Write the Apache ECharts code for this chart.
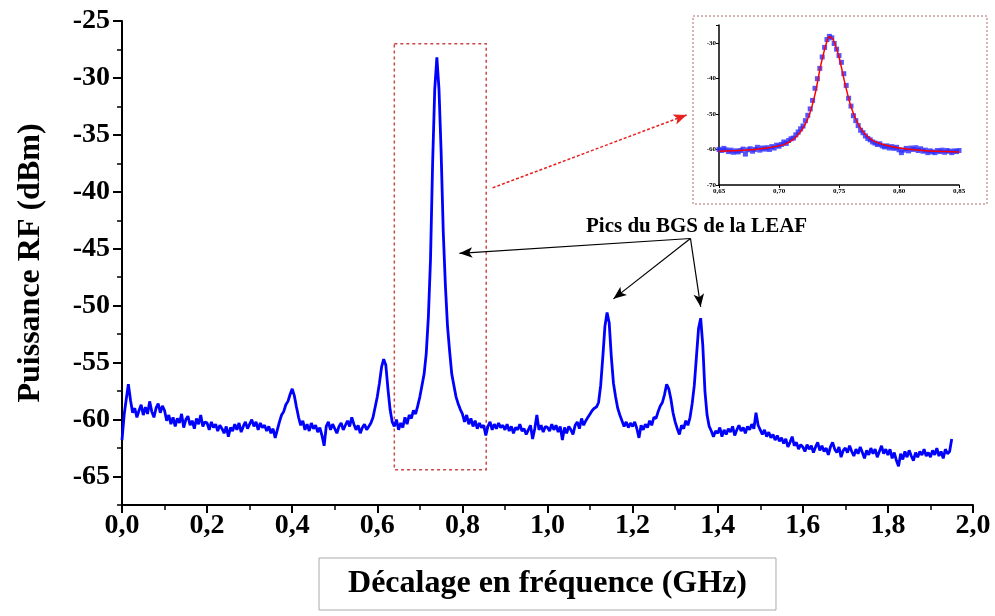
<!DOCTYPE html>
<html><head><meta charset="utf-8">
<script src="https://cdn.jsdelivr.net/npm/echarts@6/dist/echarts.min.js"></script>
<style>html,body{margin:0;padding:0;background:#fff}#c{width:995px;height:616px}</style>
</head><body><div id="c"></div>
<script>
// ---- main spectrum: sampled every 0.005 GHz starting at 0.000 GHz ----
const FREQ_START = 0.0;
const FREQ_STEP = 0.005;
const powerRows = [
  [-61.8,-59.6,-58.2,-56.9,-58.3,-59.4,-59.0,-59.8,-59.2,-58.7,-59.6,-58.9,-59.5,-58.4,-59.3,-59.8,-59.0,-58.6,-59.4,-58.8],
  [-59.2,-60.1,-59.6,-60.4,-59.8,-60.6,-59.9,-60.3,-59.5,-60.7,-60.0,-59.7,-60.5,-60.1,-60.8,-59.9,-60.4,-59.6,-60.6,-60.2],
  [-60.3,-60.9,-60.2,-60.7,-60.4,-61.0,-60.5,-60.8,-61.2,-60.6,-61.5,-60.7,-61.0,-60.4,-60.9,-60.3,-61.1,-60.6,-60.2,-60.8],
  [-60.4,-60.0,-60.6,-60.2,-60.9,-60.3,-60.7,-60.5,-61.0,-60.6,-61.2,-60.8,-61.6,-60.9,-60.2,-59.6,-59.3,-58.7,-58.4,-57.8],
  [-57.3,-57.9,-58.9,-59.8,-60.5,-60.1,-60.9,-60.4,-61.0,-60.3,-60.8,-60.5,-61.1,-60.7,-61.4,-62.3,-60.6,-60.2,-60.9,-60.4],
  [-60.8,-61.2,-60.6,-60.3,-60.9,-60.5,-60.1,-60.6,-59.8,-60.4,-60.9,-60.5,-61.2,-60.7,-60.4,-60.9,-60.6,-60.3,-59.8,-58.9],
  [-58.0,-56.8,-55.4,-54.7,-55.2,-57.3,-59.1,-60.2,-60.6,-60.0,-60.9,-60.3,-60.7,-59.8,-60.4,-59.6,-59.9,-59.2,-59.5,-58.8],
  [-58.0,-57.0,-56.0,-54.2,-51.0,-46.0,-37.5,-31.0,-28.2,-31.0,-36.5,-43.5,-48.2,-51.8,-54.0,-56.0,-57.0,-58.0,-58.6,-59.1],
  [-59.5,-60.2,-59.6,-60.4,-59.9,-60.6,-60.1,-60.8,-60.3,-60.7,-60.5,-61.4,-60.6,-60.2,-60.9,-60.4,-60.8,-60.3,-60.7,-60.5],
  [-60.9,-60.4,-61.0,-60.6,-61.2,-60.7,-60.9,-60.4,-61.0,-60.8,-61.3,-60.9,-60.5,-61.7,-60.8,-59.6,-60.9,-60.5,-61.1,-60.6],
  [-60.7,-61.0,-60.4,-60.9,-60.5,-61.1,-60.6,-61.8,-60.7,-61.2,-60.6,-60.9,-61.3,-60.5,-60.2,-60.8,-59.9,-60.5,-60.1,-59.8],
  [-59.5,-59.2,-59.0,-58.9,-58.5,-57.0,-54.5,-51.8,-50.6,-51.5,-54.5,-56.8,-58.0,-59.0,-59.6,-60.1,-60.6,-60.2,-60.7,-60.3],
  [-60.6,-60.2,-60.8,-61.6,-60.5,-60.9,-60.4,-60.7,-60.1,-60.5,-59.8,-59.9,-59.3,-58.8,-58.5,-57.8,-56.9,-57.3,-58.2,-59.4],
  [-60.2,-60.8,-61.3,-60.5,-60.8,-60.1,-60.5,-59.8,-58.6,-57.0,-54.5,-52.0,-51.1,-53.5,-57.5,-59.6,-60.6,-61.0,-61.5,-61.0],
  [-61.2,-60.7,-61.5,-60.9,-61.3,-60.8,-61.1,-60.6,-61.4,-60.9,-60.5,-61.0,-60.7,-61.2,-60.6,-60.9,-60.4,-60.8,-59.4,-60.5],
  [-60.9,-61.3,-60.9,-61.5,-61.1,-61.6,-61.3,-61.8,-61.4,-61.9,-61.6,-62.1,-61.7,-62.4,-62.0,-61.5,-62.3,-62.0,-62.6,-62.2],
  [-62.4,-62.8,-62.2,-62.6,-62.3,-62.9,-62.4,-62.0,-62.7,-62.3,-62.8,-62.5,-63.1,-62.4,-62.0,-62.6,-62.9,-62.4,-63.3,-62.7],
  [-62.5,-62.9,-62.3,-62.8,-63.2,-62.6,-63.0,-62.4,-62.9,-63.4,-62.7,-63.1,-62.5,-63.0,-62.6,-63.3,-62.8,-62.3,-63.0,-62.6],
  [-63.1,-62.6,-63.4,-62.9,-63.6,-64.1,-63.0,-63.5,-62.8,-63.3,-62.7,-63.2,-63.6,-62.9,-63.3,-62.8,-63.1,-62.6,-63.2,-62.9],
  [-63.3,-62.7,-63.1,-62.5,-63.2,-62.8,-63.4,-62.6,-63.0,-62.8,-61.7]
];

// ---- inset: measured points (every 0.002 GHz from 0.650) and fitted curve ----
const INSET_START = 0.65;
const INSET_STEP = 0.002;
const insetPoints = [
  -60.0,-60.3,-59.7,-60.1,-60.6,-60.2,-60.8,-60.4,-60.7,-60.3,
  -59.9,-61.3,-60.1,-59.8,-60.5,-60.0,-59.4,-60.2,-59.6,-59.9,
  -59.5,-60.0,-59.2,-59.6,-58.8,-59.1,-58.6,-57.9,-58.3,-57.5,
  -57.0,-56.8,-55.9,-55.1,-54.2,-53.4,-51.9,-50.4,-48.6,-46.2,
  -42.8,-40.1,-37.2,-34.0,-31.3,-29.1,-28.2,-28.6,-30.2,-31.8,
  -33.6,-35.5,-38.7,-42.0,-45.6,-47.8,-50.5,-51.9,-53.3,-54.6,
  -55.3,-56.2,-56.9,-57.3,-57.9,-58.2,-58.6,-58.4,-59.0,-59.3,
  -59.0,-59.6,-59.2,-59.7,-59.4,-60.1,-60.9,-60.2,-59.7,-60.4,
  -59.6,-60.0,-59.5,-60.3,-59.8,-60.5,-60.2,-60.9,-60.4,-60.7,
  -60.9,-60.3,-60.6,-60.2,-60.8,-60.3,-60.5,-60.9,-60.4,-60.6,
  -60.3
];
const fitFreq  = [0.65,0.66,0.67,0.68,0.69,0.70,0.705,0.71,0.715,0.72,0.725,0.73,0.735,0.74,0.742,0.745,0.75,0.755,0.76,0.765,0.77,0.775,0.78,0.79,0.80,0.81,0.82,0.83,0.84,0.85];
const fitPower = [-60.5,-60.4,-60.2,-60.0,-59.6,-59.0,-58.5,-57.6,-56.2,-54.0,-50.5,-44.5,-36.0,-29.5,-28.3,-29.0,-34.0,-41.5,-48.0,-52.2,-55.0,-56.7,-57.8,-58.9,-59.6,-60.0,-60.3,-60.5,-60.6,-60.7];

// ---- axis ticks ----
const xTicks = {min: 0, max: 2, interval: 0.2};
const yTicks = {min: -65, max: -25, interval: 5};
const insetXTicks = {min: 0.65, max: 0.85, interval: 0.05};
const insetYTicks = {min: -70, max: -25, interval: 10};

// ---- annotations (data coordinates) ----
const zoomBox = [[0.64, -27.0], [0.856, -64.4]];
const zoomArrow = [[0.871, -39.65], [1.327, -33.25]];
const labelOrigin = [1.336, -44.1];
const peakTargets = [[0.793, -45.4], [1.155, -49.4], [1.36, -50.1]];
const annotationText = 'Pics du BGS de la LEAF';

const power = powerRows.flat();
const mainData = power.map((v, i) => [+(FREQ_START + i * FREQ_STEP).toFixed(3), v]);
const insetData = insetPoints.map((v, i) => [+(INSET_START + i * INSET_STEP).toFixed(3), v]);
const fitData = fitFreq.map((f, i) => [f, fitPower[i]]);

const FONT = '"Liberation Serif", "Times New Roman", serif';
const fmtComma = (d) => (v) => v.toFixed(d).replace('.', ',');

const chart = echarts.init(document.getElementById('c'), null, {renderer: 'canvas'});
chart.setOption({
  animation: false,
  backgroundColor: '#fff',
  grid: [
    {left: 122, right: 22, top: 21, bottom: 111},
    {left: 122, right: 22, top: 21, bottom: 139.47},
    {left: 719, top: 25, width: 240, height: 160}
  ],
  xAxis: [
    {
      type: 'value', gridIndex: 0, min: xTicks.min, max: xTicks.max, interval: xTicks.interval,
      axisLine: {onZero: false, lineStyle: {color: '#000', width: 2}},
      axisTick: {length: 8, lineStyle: {color: '#000', width: 2}},
      minorTick: {show: true, splitNumber: 2, length: 5, lineStyle: {color: '#000', width: 1.5}},
      splitLine: {show: false},
      axisLabel: {formatter: fmtComma(1), color: '#000', fontFamily: FONT, fontWeight: 'bold', fontSize: 28, margin: 7},
      name: 'Décalage en fréquence (GHz)', nameLocation: 'middle', nameGap: 53,
      nameTextStyle: {color: '#000', fontFamily: FONT, fontWeight: 'bold', fontSize: 32,
        borderColor: '#aaa', borderWidth: 1, padding: [10, 29, 10, 29]}
    },
    {type: 'value', gridIndex: 1, min: xTicks.min, max: xTicks.max, show: false},
    {
      type: 'value', gridIndex: 2, min: insetXTicks.min, max: insetXTicks.max, interval: insetXTicks.interval,
      axisLine: {onZero: false, lineStyle: {color: '#000', width: 1.5}},
      axisTick: {length: 3, lineStyle: {color: '#000'}},
      splitLine: {show: false},
      axisLabel: {formatter: fmtComma(2), color: '#000', fontFamily: FONT, fontWeight: 'bold', fontSize: 7, margin: 3}
    }
  ],
  yAxis: [
    {
      type: 'value', gridIndex: 0, min: -67.5, max: yTicks.max, interval: 2.5,
      axisLine: {onZero: false, lineStyle: {color: '#000', width: 2}},
      axisTick: {length: 5, lineStyle: {color: '#000', width: 1.5}},
      splitLine: {show: false},
      axisLabel: {show: false},
      name: 'Puissance RF (dBm)', nameLocation: 'middle', nameGap: 75,
      nameTextStyle: {color: '#000', fontFamily: FONT, fontWeight: 'bold', fontSize: 32}
    },
    {
      type: 'value', gridIndex: 1, min: yTicks.min, max: yTicks.max, interval: yTicks.interval,
      axisLine: {show: false},
      axisTick: {length: 9, lineStyle: {color: '#000', width: 2}},
      splitLine: {show: false},
      axisLabel: {color: '#000', fontFamily: FONT, fontWeight: 'bold', fontSize: 28, margin: 12}
    },
    {
      type: 'value', gridIndex: 2, min: insetYTicks.min, max: insetYTicks.max, interval: insetYTicks.interval,
      axisLine: {onZero: false, lineStyle: {color: '#000', width: 1.5}},
      axisTick: {length: 3, lineStyle: {color: '#000'}},
      splitLine: {show: false},
      axisLabel: {formatter: (v) => (v % 10 === 0 ? String(v) : ''), color: '#000', fontFamily: FONT, fontWeight: 'bold', fontSize: 7, margin: 3}
    }
  ],
  graphic: [
    {type: 'rect', shape: {x: 693, y: 16, width: 294, height: 188}, z: 0,
      style: {fill: 'none', stroke: '#b06a6a', lineWidth: 1, lineDash: [2, 2]}},
    {type: 'text', left: 586, top: 216, z: 10,
      style: {text: annotationText, font: 'bold 21px ' + FONT, fill: '#000'}}
  ],
  series: [
    {
      type: 'line', xAxisIndex: 0, yAxisIndex: 0, data: mainData, showSymbol: false,
      lineStyle: {color: '#0000ff', width: 2.8}, itemStyle: {color: '#0000ff'},
      markArea: {
        silent: true,
        itemStyle: {color: 'rgba(0,0,0,0)', borderColor: '#c84848', borderWidth: 1.5, borderType: [3, 3]},
        data: [[{coord: zoomBox[0]}, {coord: zoomBox[1]}]]
      },
      markLine: {
        silent: true, symbol: ['none', 'arrow'], symbolSize: [8, 13],
        label: {show: false},
        data: [
          [{coord: zoomArrow[0], lineStyle: {color: '#e82020', width: 1.5, type: [3, 2]}}, {coord: zoomArrow[1]}],
          ...peakTargets.map(t => [{coord: labelOrigin, lineStyle: {color: '#000', width: 1.2, type: 'solid'}}, {coord: t}])
        ]
      }
    },
    {
      type: 'scatter', xAxisIndex: 2, yAxisIndex: 2, data: insetData,
      symbol: 'rect', symbolSize: 5, itemStyle: {color: '#2a2aff'}
    },
    {
      type: 'line', xAxisIndex: 2, yAxisIndex: 2, data: fitData, showSymbol: false, smooth: 0.3, z: 5,
      lineStyle: {color: '#ff0000', width: 1.5}
    }
  ]
});
</script>
</body></html>
